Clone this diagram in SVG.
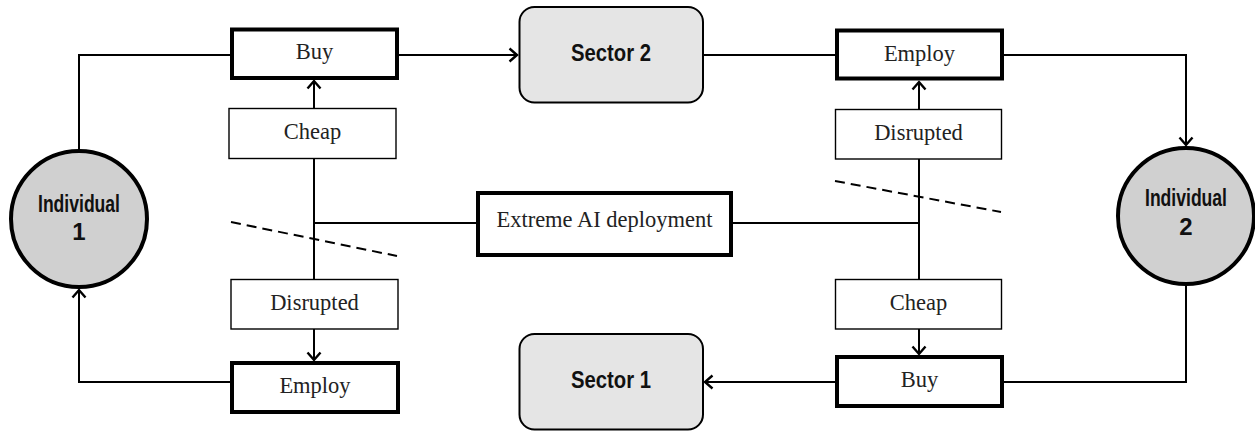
<svg xmlns="http://www.w3.org/2000/svg" width="1255" height="432" viewBox="0 0 1255 432">
  <style>
    .bg { fill: #ffffff; }
    .agent { fill: #d0d0d0; stroke: #000; stroke-width: 4; }
    .sector { fill: #e5e5e5; stroke: #000; stroke-width: 2; }
    .thick { fill: #fff; stroke: #000; stroke-width: 4; }
    .thin { fill: #fff; stroke: #000; stroke-width: 1.4; }
    .serif { font-family: "Liberation Serif", "DejaVu Serif", serif; font-size: 22.5px; fill: #222; text-anchor: middle; }
    .sans { font-family: "Liberation Sans", "Noto Sans", sans-serif; font-weight: bold; font-size: 24px; fill: #111; text-anchor: middle; }
    .wire { fill: none; stroke: #000; stroke-width: 2; }
    .dash { fill: none; stroke: #000; stroke-width: 2; stroke-dasharray: 10 6; }
  </style>
  <defs>
    <marker id="arrow" viewBox="-10 -8 12 16" markerWidth="12" markerHeight="16" refX="0" refY="0" orient="auto" markerUnits="userSpaceOnUse">
      <path d="M-7.5,-6.5 L0,0 L-7.5,6.5" fill="none" stroke="#000" stroke-width="2.4"/>
    </marker>
  </defs>
  <rect class="bg" x="0" y="0" width="1255" height="432"/>

  <!-- connectors -->
  <g id="connectors">
    <path class="wire" d="M79,151 V55 H232"/>
    <path class="wire" d="M399,55 H517" marker-end="url(#arrow)"/>
    <path class="wire" d="M703,55 H837"/>
    <path class="wire" d="M1003,55 H1186 V145" marker-end="url(#arrow)"/>
    <path class="wire" d="M314,108 V81" marker-end="url(#arrow)"/>
    <path class="wire" d="M919,109 V82" marker-end="url(#arrow)"/>
    <path class="wire" d="M314,159 V279"/>
    <path class="wire" d="M919,159 V279"/>
    <path class="wire" d="M314,223 H478"/>
    <path class="wire" d="M731,223 H919"/>
    <path class="wire" d="M314,329 V360" marker-end="url(#arrow)"/>
    <path class="wire" d="M919,329 V354" marker-end="url(#arrow)"/>
    <path class="wire" d="M232,382 H79 V290" marker-end="url(#arrow)"/>
    <path class="wire" d="M837,382 H705" marker-end="url(#arrow)"/>
    <path class="wire" d="M1003,382 H1186 V286"/>
    <path class="dash" d="M231,222 L397,256"/>
    <path class="dash" d="M835,181 L1001,212"/>
  </g>

  <g id="individual1">
    <circle class="agent" cx="79" cy="219" r="68"/>
    <text class="sans" x="79" y="212" textLength="82" lengthAdjust="spacingAndGlyphs">Individual</text>
    <text class="sans" x="79" y="240">1</text>
  </g>
  <g id="individual2">
    <circle class="agent" cx="1186" cy="216" r="68"/>
    <text class="sans" x="1186" y="206" textLength="82" lengthAdjust="spacingAndGlyphs">Individual</text>
    <text class="sans" x="1186" y="235">2</text>
  </g>

  <g id="sector2">
    <rect class="sector" x="519.5" y="7" width="183.5" height="95.5" rx="15"/>
    <text class="sans" x="611" y="61" textLength="80" lengthAdjust="spacingAndGlyphs">Sector 2</text>
  </g>
  <g id="sector1">
    <rect class="sector" x="519.5" y="334" width="183.5" height="95.5" rx="15"/>
    <text class="sans" x="611" y="388" textLength="80" lengthAdjust="spacingAndGlyphs">Sector 1</text>
  </g>

  <g id="buy-top">
    <rect class="thick" x="232" y="29.5" width="165" height="48.5"/>
    <text class="serif" x="314.5" y="59">Buy</text>
  </g>
  <g id="cheap-top">
    <rect class="thin" x="229" y="108.5" width="167" height="50"/>
    <text class="serif" x="312.5" y="139">Cheap</text>
  </g>
  <g id="employ-top">
    <rect class="thick" x="837" y="30.5" width="165" height="48"/>
    <text class="serif" x="919.5" y="61">Employ</text>
  </g>
  <g id="disrupted-top">
    <rect class="thin" x="835.5" y="109.5" width="166" height="49.5"/>
    <text class="serif" x="918.5" y="140">Disrupted</text>
  </g>

  <g id="extreme-ai">
    <rect class="thick" x="478" y="193" width="253" height="62"/>
    <text class="serif" x="604.5" y="227">Extreme AI deployment</text>
  </g>

  <g id="disrupted-bottom">
    <rect class="thin" x="231" y="279.5" width="167" height="49.5"/>
    <text class="serif" x="314.5" y="310">Disrupted</text>
  </g>
  <g id="employ-bottom">
    <rect class="thick" x="232" y="363" width="166" height="49"/>
    <text class="serif" x="315" y="392.5">Employ</text>
  </g>
  <g id="cheap-bottom">
    <rect class="thin" x="835.5" y="279.5" width="166" height="49.5"/>
    <text class="serif" x="918.5" y="310">Cheap</text>
  </g>
  <g id="buy-bottom">
    <rect class="thick" x="837" y="357" width="165" height="49"/>
    <text class="serif" x="919.5" y="386.5">Buy</text>
  </g>
</svg>
